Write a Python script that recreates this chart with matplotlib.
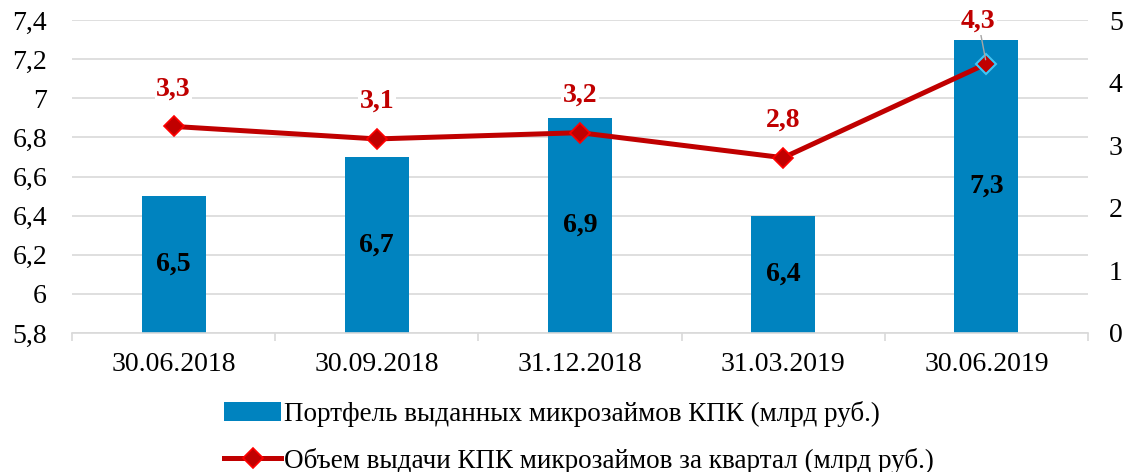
import numpy as np
from matplotlib import pyplot as plt

dates = ["30.06.2018", "30.09.2018", "31.12.2018", "31.03.2019", "30.06.2019"]
portfolio = [6.5, 6.7, 6.9, 6.4, 7.3]
issued = [3.3, 3.1, 3.2, 2.8, 4.3]

BAR_COLOR = "#0083BF"
LINE_COLOR = "#C00000"
GRID_COLOR = "#D9D9D9"
FS = 20


def fmt(v):
    return ("%g" % v).replace(".", ",")


plt.rcParams["font.family"] = ["Liberation Serif", "DejaVu Serif"]

fig = plt.figure(figsize=(11.24, 4.72), dpi=100)
ax = fig.add_axes([72 / 1124, 1 - 333 / 472, 1016 / 1124, 313 / 472])
ax2 = ax.twinx()

x = np.arange(len(dates))
bars = ax.bar(x, np.array(portfolio) - 5.8, bottom=5.8, width=0.315,
              color=BAR_COLOR, zorder=2,
              label="Портфель выданных микрозаймов КПК (млрд руб.)")
for xi, v in zip(x, portfolio):
    ax.text(xi, (v + 5.8) / 2, fmt(v), ha="center", va="center",
            fontsize=FS, fontweight="bold", color="black", zorder=3)

ax.set_ylim(5.8, 7.4)
ax.set_xlim(-0.5, len(dates) - 0.5)
ticks = np.arange(5.8, 7.41, 0.2)
ax.set_yticks(ticks)
ax.set_yticklabels([fmt(round(t, 1)) for t in ticks])
ax.yaxis.grid(True, color=GRID_COLOR, linewidth=1.2, zorder=0)
ax.set_axisbelow(True)
ax.tick_params(axis="y", length=0, labelsize=FS, pad=18)
ax.set_xticks(x)
ax.set_xticklabels(dates)
ax.tick_params(axis="x", length=0, labelsize=FS, pad=14)
ax.set_xticks(np.arange(-0.5, len(dates), 1), minor=True)
ax.tick_params(axis="x", which="minor", length=6, color=GRID_COLOR, width=1.2)
for s in ["top", "left", "right"]:
    ax.spines[s].set_visible(False)
ax.spines["bottom"].set_color(GRID_COLOR)
ax.spines["bottom"].set_linewidth(1.2)

line, = ax2.plot(x, issued, color=LINE_COLOR, linewidth=3.6, marker="D",
                 markersize=10, markerfacecolor=LINE_COLOR,
                 markeredgecolor="#FF0000", markeredgewidth=1.2, zorder=4,
                 label="Объем выдачи КПК микрозаймов за квартал (млрд руб.)")
ax2.plot(x[-1], issued[-1], marker="D", markersize=10,
         markerfacecolor=LINE_COLOR, markeredgecolor="#33CCFF",
         markeredgewidth=1.5, zorder=5)
ax2.set_ylim(0, 5)
ax2.set_yticks(range(6))
ax2.tick_params(axis="y", length=0, labelsize=FS, pad=15)
for s in ["top", "left", "right", "bottom"]:
    ax2.spines[s].set_visible(False)

for i, (xi, v) in enumerate(zip(x, issued)):
    if i == len(issued) - 1:
        ax2.annotate(fmt(v), xy=(xi, v), xytext=(xi - 0.04, 4.98),
                     ha="center", va="center", fontsize=FS,
                     fontweight="bold", color=LINE_COLOR,
                     bbox=dict(facecolor="white", edgecolor="none", pad=1),
                     arrowprops=dict(arrowstyle="-", color="#A6A6A6",
                                     linewidth=1, shrinkA=0, shrinkB=3),
                     zorder=6)
    else:
        ax2.text(xi, v + 0.6, fmt(v), ha="center", va="center",
                 fontsize=FS, fontweight="bold", color=LINE_COLOR,
                 bbox=dict(facecolor="white", edgecolor="none", pad=1),
                 zorder=6)

ax2.set_zorder(ax.get_zorder() + 1)
ax2.patch.set_visible(False)

fig.legend(handles=[bars, line], loc="center", bbox_to_anchor=(0.515, 0.074),
           ncol=1, frameon=False, fontsize=19.5, handlelength=2.1,
           handletextpad=0.1, labelspacing=0.78)

fig.savefig("out.png", dpi=100)
